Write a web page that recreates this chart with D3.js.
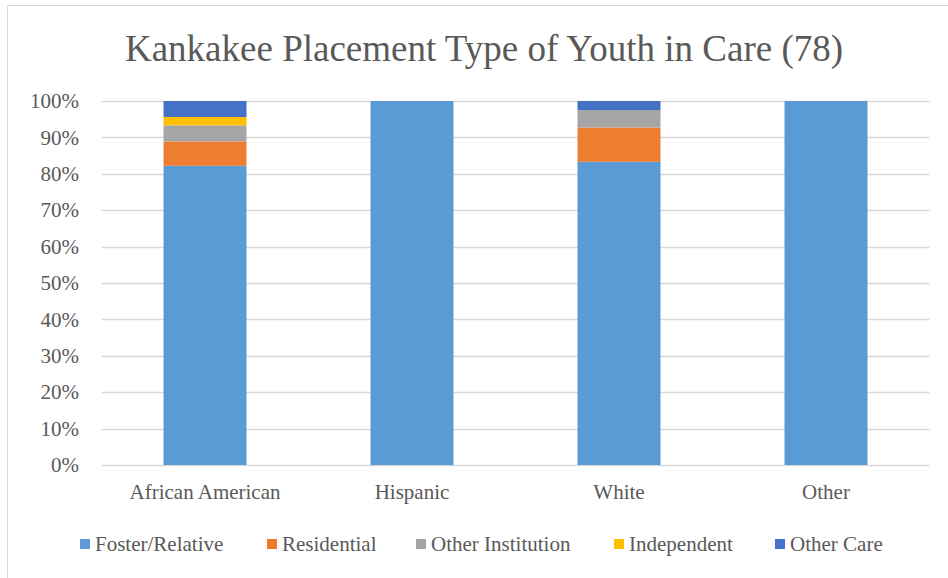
<!DOCTYPE html>
<html><head><meta charset="utf-8">
<script src="https://cdn.jsdelivr.net/npm/d3@7"></script>
<style>body{margin:0;background:#fff}svg{display:block}
svg text{font-family:"Liberation Serif","Times New Roman",Times,"DejaVu Serif",serif;}</style>
</head><body><svg id="c" width="948" height="578"></svg>
<script>
const categories = ["African American", "Hispanic", "White", "Other"];
const seriesNames = ["Foster/Relative", "Residential", "Other Institution", "Independent", "Other Care"];
const fosterRelative = [82.2, 100, 83.3, 100];
const residential = [6.7, 0, 9.4, 0];
const otherInstitution = [4.4, 0, 4.8, 0];
const independent = [2.3, 0, 0, 0];
const otherCare = [4.4, 0, 2.5, 0];
const colors = ["#5b9bd5", "#ed7d31", "#a5a5a5", "#ffc000", "#4472c4"];
const yTicks = [0,10,20,30,40,50,60,70,80,90,100];

const svg = d3.select("#c");
svg.append("rect").attr("x",7.5).attr("y",5.5).attr("width",1000).attr("height",1000)
  .attr("fill","#fff").attr("stroke","#d9d9d9");

const x = d3.scaleBand().domain(categories).range([101.5, 929.5]).paddingInner(0.6).paddingOuter(0.3);
const y = d3.scaleLinear().domain([0,100]).range([465,101]);

svg.append("text").attr("x",484).attr("y",61).attr("text-anchor","middle")
  .attr("font-size",37).attr("fill","#595959")
  .text("Kankakee Placement Type of Youth in Care (78)");

const g = svg.append("g");
g.selectAll("line.grid").data(yTicks).join("line")
  .attr("x1",101.5).attr("x2",929.5)
  .attr("y1",d=>Math.round(y(d))+0.5).attr("y2",d=>Math.round(y(d))+0.5)
  .attr("stroke","#d9d9d9").attr("stroke-width",1.3);

const yAxis = d3.axisLeft(y).tickValues(yTicks).tickFormat(d=>d+"%").tickSize(0).tickPadding(0);
const ya = svg.append("g").attr("transform","translate(79,0)").call(yAxis);
ya.select(".domain").remove();
ya.attr("font-family",null);
ya.selectAll("text").attr("font-size",21).attr("fill","#595959");

const table = categories.map((c,i)=>({cat:c, "Foster/Relative":fosterRelative[i], "Residential":residential[i],
  "Other Institution":otherInstitution[i], "Independent":independent[i], "Other Care":otherCare[i]}));
const stack = d3.stack().keys(seriesNames)(table);
const bw = 83;
svg.append("g").selectAll("g").data(stack).join("g").attr("fill",(d,i)=>colors[i])
  .selectAll("rect").data(d=>d).join("rect")
  .attr("x",d=>x(d.data.cat)+x.bandwidth()/2-bw/2).attr("width",bw)
  .attr("y",d=>y(d[1])).attr("height",d=>y(d[0])-y(d[1]));

const xAxis = d3.axisBottom(x).tickSize(0).tickPadding(0);
const xa = svg.append("g").attr("transform","translate(0,465)").call(xAxis);
xa.select(".domain").remove();
xa.attr("font-family",null);
xa.selectAll("text").attr("font-size",21).attr("fill","#595959").attr("dy","34");

const legX = [80, 267, 416, 614, 775];
const leg = svg.append("g").selectAll("g").data(seriesNames).join("g")
  .attr("transform",(d,i)=>`translate(${legX[i]},544)`);
leg.append("rect").attr("x",0).attr("y",-5).attr("width",10).attr("height",10).attr("fill",(d,i)=>colors[i]);
leg.append("text").attr("x",15).attr("y",7).attr("font-size",21)
  .attr("fill","#595959").text(d=>d);
</script></body></html>
